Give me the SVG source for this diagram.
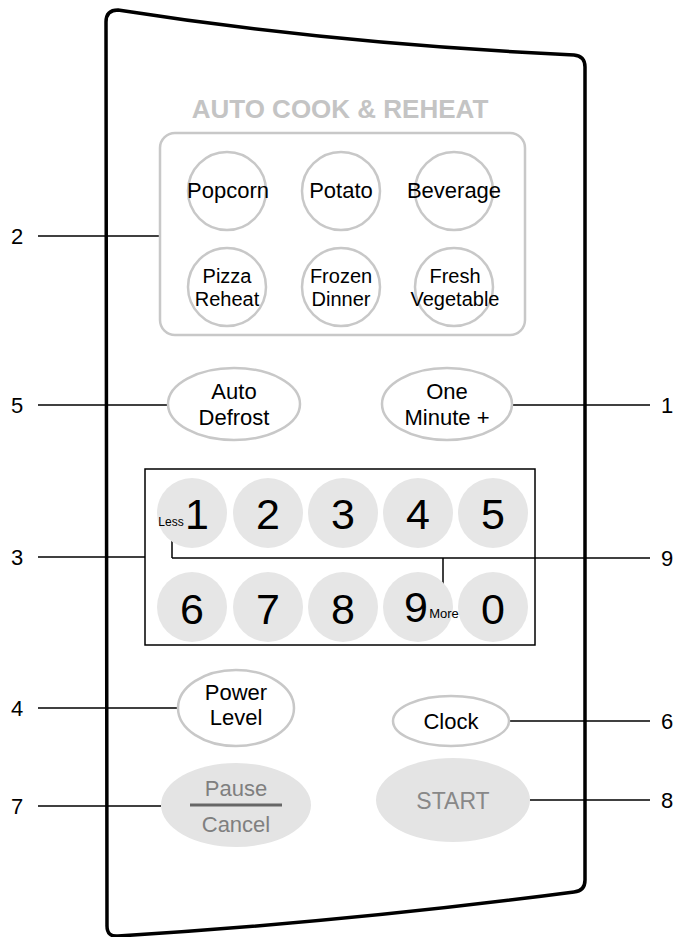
<svg xmlns="http://www.w3.org/2000/svg" width="681" height="937" viewBox="0 0 681 937">
<style>
.lbl{font-family:"Liberation Sans",Arial,sans-serif;font-size:22px;fill:#000;text-anchor:middle}
.btn{font-family:"Liberation Sans",Arial,sans-serif;font-size:22px;fill:#000;text-anchor:middle}
.btn2{font-family:"Liberation Sans",Arial,sans-serif;font-size:20px;fill:#000;text-anchor:middle}
.dig{font-family:"Liberation Sans",Arial,sans-serif;font-size:43px;fill:#000;text-anchor:middle}
.gcirc{fill:none;stroke:#c8c8c8;stroke-width:2.5}
.oval{fill:#fff;stroke:#c8c8c8;stroke-width:2.5}
.pad{fill:#e6e6e6}
.grey{fill:#e4e4e4}
.conn line{stroke:#000;stroke-width:1.5}
</style>
<rect width="681" height="937" fill="#fff"/>
<g id="panel">
<path d="M106,22 Q106,10 118,10 Q335,44 574,55 Q585,56 585,67 L585,880 Q585,891 574,892 Q346,922 118,936 Q107,937 107,926 Z" fill="none" stroke="#000" stroke-width="3.5"/>
</g>
<g id="connectors" class="conn">
<line x1="38" y1="236" x2="160" y2="236"/>
<line x1="38" y1="405" x2="168" y2="405"/>
<line x1="512" y1="405" x2="650" y2="405"/>
<line x1="38" y1="557" x2="145" y2="557"/>
<line x1="172" y1="558" x2="650" y2="558"/>
<line x1="172" y1="536" x2="172" y2="558"/>
<line x1="443" y1="558" x2="443" y2="597"/>
<line x1="38" y1="708" x2="177" y2="708"/>
<line x1="509" y1="721" x2="650" y2="721"/>
<line x1="38" y1="806" x2="161" y2="806"/>
<line x1="530" y1="800" x2="650" y2="800"/>
</g>
<g id="labels">
<text class="lbl" x="17" y="244">2</text>
<text class="lbl" x="17" y="413">5</text>
<text class="lbl" x="667" y="413">1</text>
<text class="lbl" x="17" y="565">3</text>
<text class="lbl" x="667" y="566">9</text>
<text class="lbl" x="17" y="716">4</text>
<text class="lbl" x="667" y="729">6</text>
<text class="lbl" x="17" y="814">7</text>
<text class="lbl" x="667" y="808">8</text>
</g>
<g id="auto-cook">
<text x="340" y="118" font-family="Liberation Sans,Arial,sans-serif" font-size="26" font-weight="bold" fill="#c4c4c4" text-anchor="middle">AUTO COOK &amp; REHEAT</text>
<rect x="160" y="133" width="365" height="202" rx="15" fill="none" stroke="#c8c8c8" stroke-width="2.5"/>
</g>
<g id="popcorn"><circle class="gcirc" cx="227" cy="191" r="39"/><text class="btn" x="228" y="198">Popcorn</text></g>
<g id="potato"><circle class="gcirc" cx="341" cy="191" r="39"/><text class="btn" x="341" y="198">Potato</text></g>
<g id="beverage"><circle class="gcirc" cx="454" cy="191" r="39"/><text class="btn" x="454" y="198">Beverage</text></g>
<g id="pizza-reheat"><circle class="gcirc" cx="227" cy="287" r="39"/><text class="btn2" x="227" y="283">Pizza</text><text class="btn2" x="227" y="306">Reheat</text></g>
<g id="frozen-dinner"><circle class="gcirc" cx="341" cy="287" r="39"/><text class="btn2" x="341" y="283">Frozen</text><text class="btn2" x="341" y="306">Dinner</text></g>
<g id="fresh-vegetable"><circle class="gcirc" cx="454" cy="287" r="39"/><text class="btn2" x="455" y="283">Fresh</text><text class="btn2" x="455" y="306">Vegetable</text></g>
<g id="auto-defrost"><ellipse class="oval" cx="234" cy="404" rx="66" ry="36"/><text class="btn" x="234" y="399">Auto</text><text class="btn" x="234" y="425">Defrost</text></g>
<g id="one-minute"><ellipse class="oval" cx="447" cy="404" rx="65" ry="36"/><text class="btn" x="447" y="399">One</text><text class="btn" x="447" y="425">Minute +</text></g>
<g id="number-pad">
<rect x="145" y="469" width="390" height="176" fill="none" stroke="#000" stroke-width="1.5"/>
<circle class="pad" cx="192" cy="513" r="35"/><circle class="pad" cx="268" cy="513" r="35"/><circle class="pad" cx="343" cy="513" r="35"/><circle class="pad" cx="418" cy="513" r="35"/><circle class="pad" cx="493" cy="513" r="35"/>
<circle class="pad" cx="192" cy="607" r="35"/><circle class="pad" cx="268" cy="607" r="35"/><circle class="pad" cx="343" cy="607" r="35"/><circle class="pad" cx="418" cy="607" r="35"/><circle class="pad" cx="493" cy="607" r="35"/>
<text class="dig" x="197" y="529">1</text><text class="dig" x="268" y="529">2</text><text class="dig" x="343" y="529">3</text><text class="dig" x="418" y="529">4</text><text class="dig" x="493" y="529">5</text>
<text class="dig" x="192" y="624">6</text><text class="dig" x="268" y="624">7</text><text class="dig" x="343" y="624">8</text><text class="dig" x="416" y="622">9</text><text class="dig" x="493" y="624">0</text>
<text x="171" y="526" font-family="Liberation Sans,Arial,sans-serif" font-size="12" fill="#000" text-anchor="middle">Less</text>
<text x="444" y="618" font-family="Liberation Sans,Arial,sans-serif" font-size="13" fill="#000" text-anchor="middle">More</text>
</g>
<g id="power-level"><ellipse class="oval" cx="236" cy="708" rx="58" ry="38"/><text class="btn" x="236" y="700">Power</text><text class="btn" x="236" y="725">Level</text></g>
<g id="clock"><ellipse class="oval" cx="451" cy="721" rx="58" ry="25"/><text class="btn" x="451" y="729">Clock</text></g>
<g id="pause-cancel"><ellipse class="grey" cx="236" cy="805" rx="75" ry="42"/><text class="btn" x="236" y="796" style="fill:#7f7f7f">Pause</text><line x1="190" y1="805" x2="282" y2="805" stroke="#666" stroke-width="3"/><text class="btn" x="236" y="832" style="fill:#7f7f7f">Cancel</text></g>
<g id="start"><ellipse class="grey" cx="453" cy="800" rx="77" ry="42"/><text class="btn" x="453" y="809" style="fill:#888;font-size:23px">START</text></g>
</svg>
